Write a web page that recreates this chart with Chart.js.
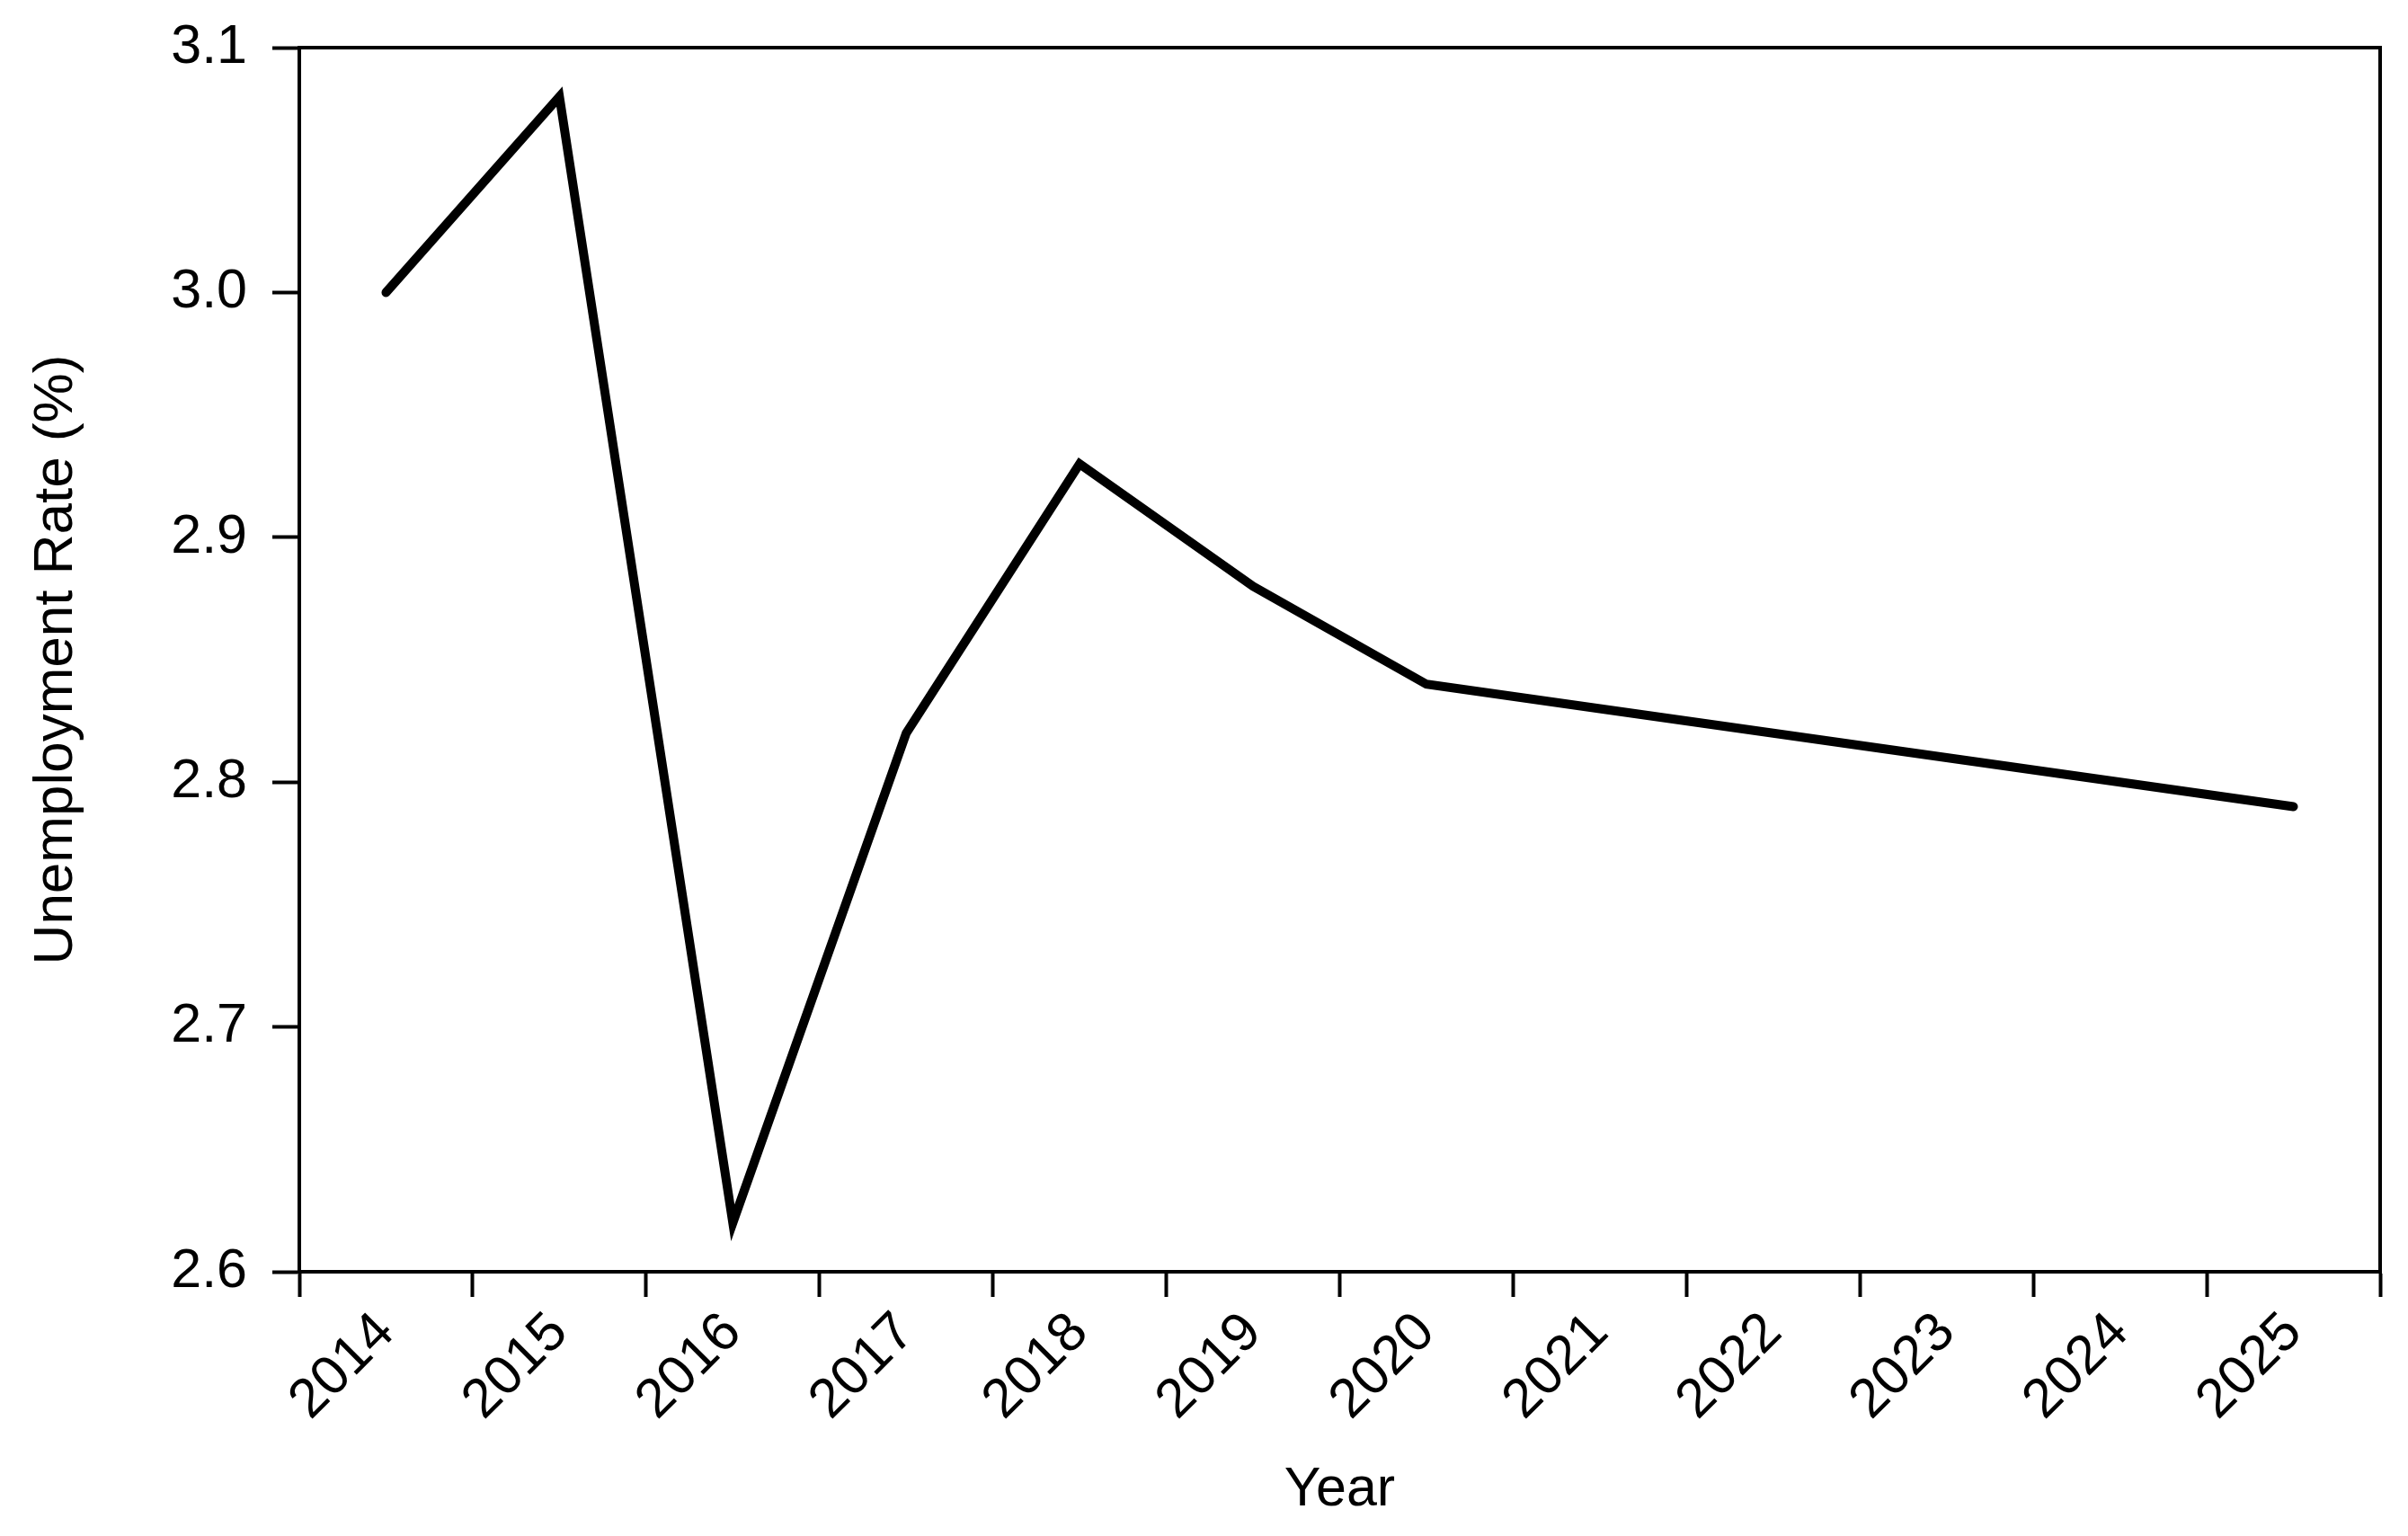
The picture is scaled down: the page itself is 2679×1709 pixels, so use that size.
<!DOCTYPE html>
<html lang="en">
<head>
  <meta charset="UTF-8" />
  <title>Unemployment Rate</title>
  <script src="https://cdn.jsdelivr.net/npm/chart.js@4.4.1/dist/chart.umd.min.js"></script>
  <style>
    html, body { margin: 0; padding: 0; background: #fff; }
    canvas { display: block; }
  </style>
</head>
<body>
  <canvas id="rateChart" width="2679" height="1709"></canvas>

  <script>
    const years = ['2014', '2015', '2016', '2017', '2018', '2019', '2020', '2021', '2022', '2023', '2024', '2025'];
    const unemploymentRate = [3.00, 3.08, 2.62, 2.82, 2.93, 2.88, 2.84, 2.83, 2.82, 2.81, 2.80, 2.79];
    const yTicks = [2.6, 2.7, 2.8, 2.9, 3.0, 3.1];

    const fontFamily = '"Liberation Sans", Arial, sans-serif';

    // box around the plot area
    const frame = {
      id: 'frame',
      afterDatasetsDraw(chart) {
        const { ctx, chartArea: a } = chart;
        ctx.save();
        ctx.strokeStyle = '#000';
        ctx.lineWidth = 4;
        ctx.strokeRect(a.left, a.top, a.right - a.left, a.bottom - a.top);
        ctx.restore();
      }
    };

    new Chart(document.getElementById('rateChart'), {
      type: 'line',
      data: {
        labels: years,
        datasets: [{
          label: 'Unemployment Rate (%)',
          data: unemploymentRate,
          borderColor: '#000',
          borderWidth: 10,
          borderCapStyle: 'round',
          borderJoinStyle: 'miter',
          pointRadius: 0,
          tension: 0,
          fill: false
        }]
      },
      options: {
        responsive: false,
        animation: false,
        layout: { padding: { left: 0, top: 53, right: 31, bottom: 0 } },
        plugins: { legend: { display: false }, tooltip: { enabled: false } },
        scales: {
          x: {
            type: 'category',
            offset: true,
            afterFit(scale) { scale.height = 1709 - 1415; },
            grid: {
              offset: true,
              drawOnChartArea: false,
              drawTicks: true,
              tickLength: 28,
              tickWidth: 4,
              tickColor: '#000',
              color: '#000'
            },
            border: { display: true, color: '#000', width: 4 },
            ticks: {
              autoSkip: false,
              maxRotation: 45,
              minRotation: 45,
              padding: 4,
              color: '#000',
              font: { family: fontFamily, size: 61 }
            },
            title: {
              display: true,
              text: 'Year',
              color: '#000',
              padding: { top: 0, bottom: 14 },
              font: { family: fontFamily, size: 61 }
            }
          },
          y: {
            min: 2.6,
            max: 3.1,
            afterFit(scale) {
              scale.width = 333;
              scale.paddingTop = 0;
              scale.paddingBottom = 0;
            },
            afterBuildTicks(scale) { scale.ticks = yTicks.map(v => ({ value: v })); },
            grid: {
              drawOnChartArea: false,
              drawTicks: true,
              tickLength: 30,
              tickWidth: 4,
              tickColor: '#000',
              color: '#000'
            },
            border: { display: true, color: '#000', width: 4 },
            ticks: {
              padding: 28,
              color: '#000',
              font: { family: fontFamily, size: 61 },
              callback: v => Number(v).toFixed(1)
            },
            title: {
              display: true,
              text: 'Unemployment Rate (%)',
              color: '#000',
              padding: { top: 26, bottom: 0 },
              font: { family: fontFamily, size: 62 }
            }
          }
        }
      },
      plugins: [frame]
    });
  </script>
</body>
</html>
